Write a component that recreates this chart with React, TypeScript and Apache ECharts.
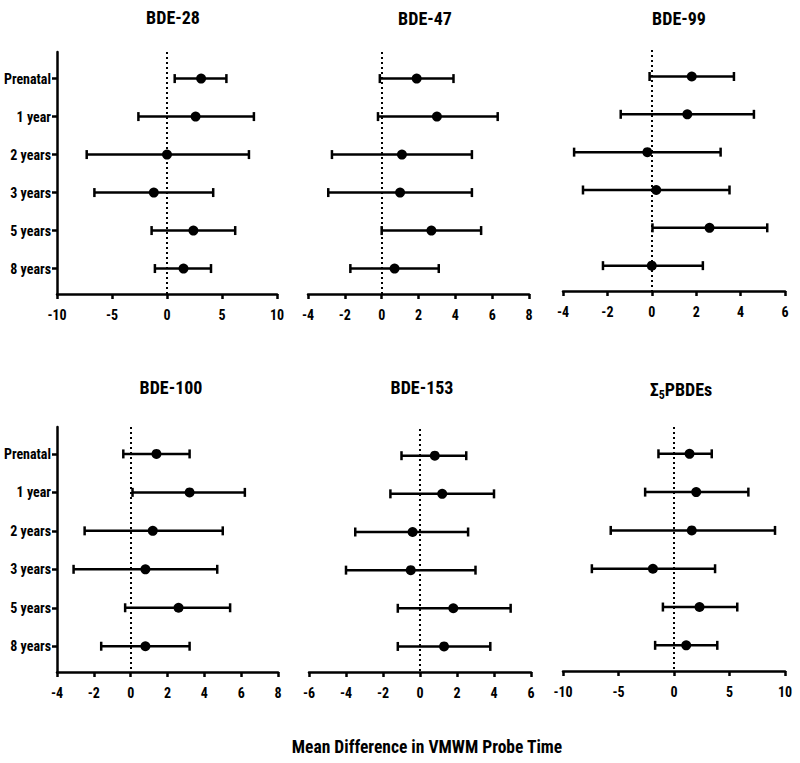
import React, { useEffect, useRef } from "react";
import * as echarts from "echarts";

// ---------- data ----------
const categories = ["Prenatal", "1 year", "2 years", "3 years", "5 years", "8 years"];
const panelTitles = ["BDE-28", "BDE-47", "BDE-99", "BDE-100", "BDE-153", "{m|Σ}{s|5}{m|PBDEs}"];
const axisTitle = "Mean Difference in VMWM Probe Time";

const bde28Mean = [3.1, 2.6, 0.0, -1.2, 2.4, 1.5];
const bde28Lower = [0.7, -2.6, -7.3, -6.6, -1.4, -1.1];
const bde28Upper = [5.4, 7.9, 7.45, 4.2, 6.2, 4.0];

const bde47Mean = [1.9, 3.0, 1.1, 1.0, 2.7, 0.7];
const bde47Lower = [-0.1, -0.2, -2.7, -2.9, 0.0, -1.7];
const bde47Upper = [3.9, 6.3, 4.9, 4.9, 5.4, 3.1];

const bde99Mean = [1.8, 1.6, -0.2, 0.2, 2.6, 0.0];
const bde99Lower = [-0.1, -1.4, -3.5, -3.1, 0.03, -2.2];
const bde99Upper = [3.7, 4.6, 3.1, 3.5, 5.2, 2.3];

const bde100Mean = [1.4, 3.2, 1.2, 0.8, 2.6, 0.8];
const bde100Lower = [-0.4, 0.1, -2.5, -3.1, -0.3, -1.6];
const bde100Upper = [3.2, 6.2, 5.0, 4.7, 5.4, 3.2];

const bde153Mean = [0.8, 1.2, -0.4, -0.5, 1.8, 1.3];
const bde153Lower = [-1.0, -1.6, -3.5, -4.0, -1.2, -1.2];
const bde153Upper = [2.5, 4.0, 2.6, 3.0, 4.9, 3.8];

const sumMean = [1.4, 2.0, 1.6, -1.9, 2.3, 1.1];
const sumLower = [-1.4, -2.6, -5.7, -7.4, -1.0, -1.7];
const sumUpper = [3.4, 6.7, 9.1, 3.7, 5.7, 3.9];

const xMins = [-10, -4, -4, -4, -6, -10];
const xMaxs = [10, 8, 6, 8, 6, 10];
const xIntervals = [5, 2, 2, 2, 2, 5];

// ---------- layout ----------
const FONT = '"Roboto Condensed", "Liberation Sans Narrow", Roboto, sans-serif';
const grids = [
  { left: 57, top: 52, width: 220, height: 242 },
  { left: 308, top: 52, width: 221, height: 242 },
  { left: 563, top: 50, width: 222, height: 241 },
  { left: 57, top: 427, width: 221, height: 245 },
  { left: 309, top: 429, width: 222, height: 243 },
  { left: 563, top: 427, width: 222, height: 244 },
];
const titlePos = [
  { x: 168, y: 3 },
  { x: 420, y: 4 },
  { x: 674, y: 4 },
  { x: 166, y: 373 },
  { x: 417, y: 373 },
  { x: 676, y: 375 },
];

export default function App() {
  const ref = useRef<HTMLDivElement>(null);

  useEffect(() => {
    if (!ref.current) return;
    const chart = echarts.init(ref.current, null, { renderer: "svg" });

    const panels = [
      [bde28Lower, bde28Mean, bde28Upper],
      [bde47Lower, bde47Mean, bde47Upper],
      [bde99Lower, bde99Mean, bde99Upper],
      [bde100Lower, bde100Mean, bde100Upper],
      [bde153Lower, bde153Mean, bde153Upper],
      [sumLower, sumMean, sumUpper],
    ];
    const rowValues = categories.map((_, i) => i + 1);
    const labelStyle = { color: "#000", fontWeight: "bold" as const, fontFamily: FONT };

    const titles: any[] = panelTitles.map((t, i) => ({
      text: t,
      left: titlePos[i].x,
      top: titlePos[i].y,
      textAlign: "center",
      textStyle: {
        ...labelStyle,
        fontSize: 18,
        rich: {
          m: { ...labelStyle, fontSize: 18, lineHeight: 21, verticalAlign: "top" },
          s: { ...labelStyle, fontSize: 12, lineHeight: 12, verticalAlign: "bottom" },
        },
      },
    }));
    titles.push({
      text: axisTitle,
      left: 422,
      top: 733,
      textAlign: "center",
      textStyle: { ...labelStyle, fontSize: 17.5 },
    });

    const xAxis = panels.map((_, i) => ({
      gridIndex: i,
      type: "value",
      min: xMins[i],
      max: xMaxs[i],
      interval: xIntervals[i],
      axisLine: { show: true, onZero: false, lineStyle: { color: "#000", width: 2.5 } },
      axisTick: { show: true, length: 5, lineStyle: { color: "#000", width: 2.5 } },
      axisLabel: { ...labelStyle, fontSize: 14, margin: 14 },
      splitLine: { show: false },
    }));

    const yAxis = panels.map((_, i) => {
      const showAxis = i === 0 || i === 3;
      return {
        gridIndex: i,
        type: "value",
        min: 0.3,
        max: 6.67,
        inverse: true,
        axisLine: { show: showAxis, onZero: false, lineStyle: { color: "#000", width: 2.5 } },
        axisTick: {
          show: showAxis,
          customValues: rowValues,
          length: 5,
          lineStyle: { color: "#000", width: 2.5 },
        },
        axisLabel: {
          show: showAxis,
          customValues: rowValues,
          formatter: (v: number) => categories[Math.round(v) - 1] ?? "",
          ...labelStyle,
          fontSize: 14,
          margin: 6,
        },
        splitLine: { show: false },
      };
    });

    const series: any[] = [];
    panels.forEach(([lo, mean, hi], i) => {
      series.push({
        type: "custom",
        xAxisIndex: i,
        yAxisIndex: i,
        encode: { x: [0, 1, 2], y: 3 },
        data: categories.map((_, k) => [lo[k], mean[k], hi[k], k + 1]),
        renderItem: (params: any, api: any) => {
          const y = api.value(3);
          const a = api.coord([api.value(0), y]);
          const b = api.coord([api.value(2), y]);
          const cap = 4.5;
          const st = { stroke: "#000", lineWidth: 2.5 };
          return {
            type: "group",
            children: [
              { type: "line", shape: { x1: a[0], y1: a[1], x2: b[0], y2: b[1] }, style: st },
              { type: "line", shape: { x1: a[0], y1: a[1] - cap, x2: a[0], y2: a[1] + cap }, style: st },
              { type: "line", shape: { x1: b[0], y1: b[1] - cap, x2: b[0], y2: b[1] + cap }, style: st },
            ],
          };
        },
        z: 2,
      });
      series.push({
        type: "scatter",
        xAxisIndex: i,
        yAxisIndex: i,
        data: categories.map((_, k) => [mean[k], k + 1]),
        symbol: "circle",
        symbolSize: 10,
        itemStyle: { color: "#000", opacity: 1 },
        z: 3,
        markLine: {
          silent: true,
          symbol: ["none", "none"],
          label: { show: false },
          lineStyle: { color: "#000", type: [2, 3], width: 2 },
          data: [{ xAxis: 0 }],
          z: 1,
        },
      });
    });

    chart.setOption({
      animation: false,
      backgroundColor: "#fff",
      title: titles,
      grid: grids.map((g) => ({ ...g, containLabel: false, outerBoundsMode: "none" })),
      xAxis,
      yAxis,
      series,
    });

    return () => chart.dispose();
  }, []);

  return (
    <div
      ref={ref}
      style={{ position: "fixed", left: 0, top: 0, width: 800, height: 763 }}
    />
  );
}
